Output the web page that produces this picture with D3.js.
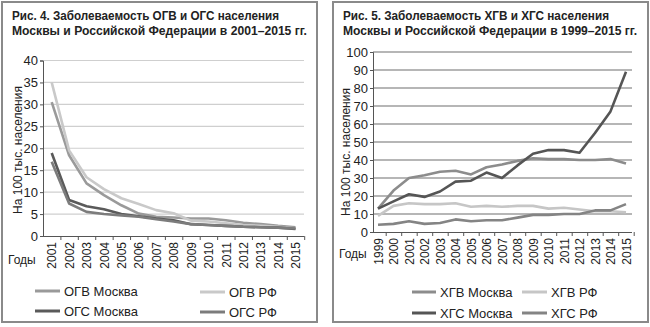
<!DOCTYPE html>
<html>
<head>
<meta charset="utf-8">
<script src="https://cdn.jsdelivr.net/npm/d3@7"></script>
<style>
  body { margin: 0; background: #fff; }
  svg text { font-family: "Liberation Sans", Arial, sans-serif; }
</style>
</head>
<body>
<div id="chart"></div>
<script>
// ---- fig. 4: acute hepatitis B / C, 2001-2015
const yearsAcute = d3.range(2001, 2016).map(String);
const ogvMoscow = [30.5, 18.4, 12, 9.3, 7, 5.1, 4.4, 4.2, 4, 4, 3.6, 3, 2.7, 2.3, 2];
const ogvRf     = [35, 19.5, 13.4, 10.7, 8.6, 7.3, 5.9, 5.2, 3.5, 3.3, 2.9, 2.5, 2.3, 2.1, 1.7];
const ogsMoscow = [18.9, 8.2, 6.8, 6.1, 5, 4.5, 4, 3.6, 2.7, 2.5, 2.3, 2.1, 2, 1.9, 1.6];
const ogsRf     = [16.9, 7.4, 5.5, 5, 4.7, 4.4, 3.8, 3.3, 2.7, 2.5, 2.3, 2.1, 2, 1.9, 1.7];
const acuteTicks = [0, 5, 10, 15, 20, 25, 30, 35, 40];

// ---- fig. 5: chronic hepatitis B / C, 1999-2015
const yearsChronic = d3.range(1999, 2016).map(String);
const hgvMoscow = [13, 23, 30, 31.5, 33.5, 34, 32, 36, 37.5, 39.5, 41, 40.5, 40.5, 40, 40, 40.5, 38];
const hgvRf     = [9, 14.5, 16, 15.5, 15.5, 16, 14, 14.5, 14, 14.5, 14.5, 13, 13.5, 12.5, 11.5, 11.5, 11];
const hgsMoscow = [13, 17, 21, 19.5, 22.5, 28, 28.5, 33, 30, 37, 43.5, 45.5, 45.5, 44, 55, 67, 89];
const hgsRf     = [4, 4.5, 6, 4.5, 5, 7, 6, 6.5, 6.5, 8, 9.5, 9.5, 10, 10, 12, 12, 15.5];
const chronicTicks = d3.range(0, 101, 10);

const W = 650, H = 327;
const svg = d3.select("#chart").append("svg").attr("width", W).attr("height", H);

function panel(cfg) {
  const g = svg.append("g");

  g.append("rect")
    .attr("x", cfg.box[0]).attr("y", 2)
    .attr("width", cfg.box[1] - cfg.box[0]).attr("height", 320)
    .attr("fill", "none").attr("stroke", "#8a8a8a").attr("stroke-width", 2);

  cfg.title.forEach((t, i) => {
    g.append("text")
      .attr("x", cfg.box[0] + 10).attr("y", 20 + i * 15)
      .attr("font-size", 12).attr("font-weight", "bold").attr("fill", "#222")
      .attr("textLength", cfg.titleLen[i]).attr("lengthAdjust", "spacingAndGlyphs")
      .text(t);
  });

  const x = d3.scalePoint().domain(cfg.years).range(cfg.xRange);
  const y = d3.scaleLinear().domain(cfg.yDomain).range(cfg.yRange);

  // horizontal grid
  g.append("g")
    .selectAll("line")
    .data(cfg.ticks.slice(1))
    .join("line")
    .attr("x1", cfg.axisX).attr("x2", cfg.gridEnd)
    .attr("y1", d => y(d)).attr("y2", d => y(d))
    .attr("stroke", cfg.gridColor).attr("stroke-width", 1.2);

  const yAxis = g.append("g")
    .attr("transform", `translate(${cfg.axisX},0)`)
    .call(d3.axisLeft(y).tickValues(cfg.ticks).tickSize(3).tickPadding(2));
  yAxis.select(".domain").attr("stroke", "#555");
  yAxis.selectAll(".tick line").attr("stroke", "#555");
  yAxis.selectAll("text").attr("font-size", 13).attr("fill", "#222");

  const xAxis = g.append("g")
    .attr("transform", `translate(0,${cfg.yRange[0]})`)
    .call(d3.axisBottom(x).tickSize(4).tickPadding(3));
  xAxis.select(".domain").attr("d", `M${cfg.axisX},0.5H${cfg.gridEnd}`).attr("stroke", "#555");
  xAxis.selectAll(".tick line").attr("stroke", "#555").attr("transform", `translate(${cfg.tickShift},0)`);
  xAxis.selectAll("text")
    .attr("font-size", 12).attr("fill", "#222")
    .attr("transform", "rotate(-90)")
    .attr("text-anchor", "end")
    .attr("dy", "0.35em")
    .attr("x", -6).attr("y", 0);

  g.append("text")
    .attr("x", cfg.godyX).attr("y", cfg.godyY)
    .attr("font-size", 12).attr("fill", "#222").text("Годы");

  g.append("text")
    .attr("transform", `translate(${cfg.yTitleX},${cfg.yTitleY}) rotate(-90)`)
    .attr("text-anchor", "middle")
    .attr("font-size", 12).attr("fill", "#222")
    .text("На 100 тыс. населения");

  const line = d3.line().x((d, i) => x(cfg.years[i])).y(d => y(d));
  cfg.series.forEach(s => {
    g.append("path")
      .datum(s.values)
      .attr("fill", "none")
      .attr("stroke", s.color).attr("stroke-width", 2.6)
      .attr("stroke-linejoin", "round")
      .attr("d", line);
  });

  // legend
  cfg.series.forEach(s => {
    const lg = g.append("g").attr("transform", `translate(${s.lx},${s.ly})`);
    lg.append("line").attr("x1", 0).attr("x2", s.sw).attr("y1", 0).attr("y2", 0)
      .attr("stroke", s.color).attr("stroke-width", 3);
    lg.append("text").attr("x", s.sw + 4).attr("y", 5)
      .attr("font-size", 13).attr("fill", "#222").text(s.name);
  });
}

panel({
  box: [2, 317],
  title: ["Рис. 4. Заболеваемость ОГВ и ОГС населения",
          "Москвы и Российской Федерации  в 2001–2015 гг."],
  titleLen: [267, 295],
  years: yearsAcute,
  xRange: [51.7, 295.5],
  yDomain: [0, 40], yRange: [236, 60.5],
  ticks: acuteTicks,
  axisX: 43, gridEnd: 304, gridColor: "#cfcfcf", tickShift: 8.7,
  godyX: 8, godyY: 264,
  yTitleX: 22, yTitleY: 150,
  series: [
    { name: "ОГВ Москва", values: ogvMoscow, color: "#9a9a9a", lx: 35, ly: 291, sw: 25 },
    { name: "ОГВ РФ",     values: ogvRf,     color: "#c9c9c9", lx: 200, ly: 292, sw: 25 },
    { name: "ОГС Москва", values: ogsMoscow, color: "#5a5a5a", lx: 35, ly: 311, sw: 25 },
    { name: "ОГС РФ",     values: ogsRf,     color: "#7c7c7c", lx: 200, ly: 312, sw: 25 }
  ]
});

panel({
  box: [333, 648],
  title: ["Рис. 5. Заболеваемость ХГВ и ХГС населения",
          "Москвы и Российской Федерации в 1999–2015 гг."],
  titleLen: [266, 294],
  years: yearsChronic,
  xRange: [378, 626],
  yDomain: [0, 100], yRange: [232, 52],
  ticks: chronicTicks,
  axisX: 373, gridEnd: 632, gridColor: "#6e6e6e", tickShift: 7.7,
  godyX: 339, godyY: 258,
  yTitleX: 350, yTitleY: 152,
  series: [
    { name: "ХГВ Москва", values: hgvMoscow, color: "#8c8c8c", lx: 412, ly: 292, sw: 24 },
    { name: "ХГВ РФ",     values: hgvRf,     color: "#c6c6c6", lx: 522, ly: 292, sw: 25 },
    { name: "ХГС Москва", values: hgsMoscow, color: "#555555", lx: 412, ly: 313, sw: 24 },
    { name: "ХГС РФ",     values: hgsRf,     color: "#848484", lx: 522, ly: 313, sw: 25 }
  ]
});
</script>
</body>
</html>
